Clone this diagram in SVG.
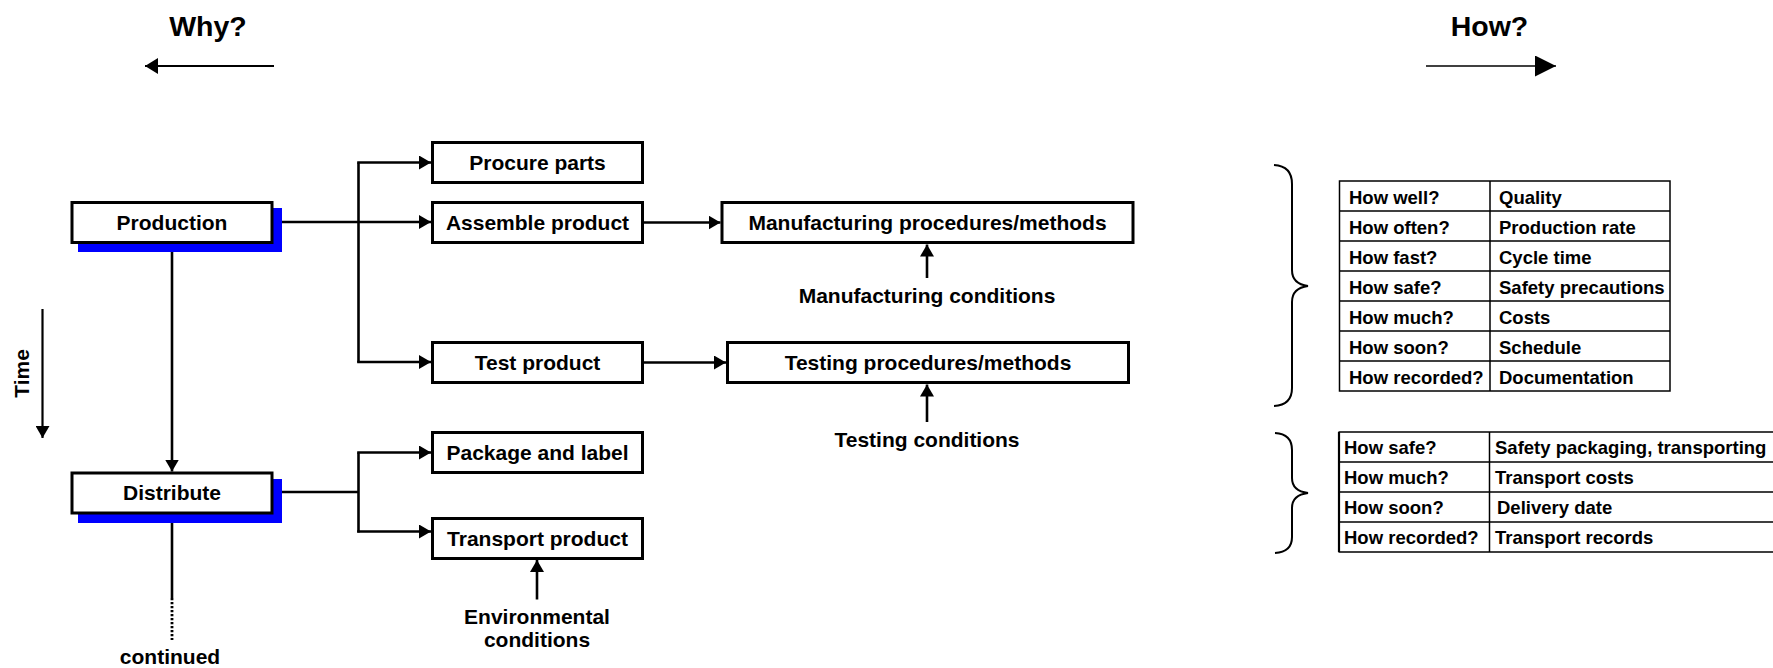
<svg xmlns="http://www.w3.org/2000/svg" width="1773" height="668" viewBox="0 0 1773 668">
<style>
text{font-family:"Liberation Sans",Arial,sans-serif;font-weight:bold;fill:#000}
.t{font-size:21px;text-anchor:middle}
.h{font-size:28.5px;text-anchor:middle}
.c{font-size:18.5px}
.box{fill:#fff;stroke:#000;stroke-width:3}
.sh{fill:#0000ff}
.ln{fill:none;stroke:#000;stroke-width:2.6}
.tb{fill:none;stroke:#000;stroke-width:1.5}
.br{fill:none;stroke:#000;stroke-width:2}
</style>
<defs>
<marker id="ah" viewBox="0 0 12 14" refX="12" refY="7" markerWidth="12" markerHeight="14" markerUnits="userSpaceOnUse" orient="auto"><path d="M0,0 L12,7 L0,14 z" fill="#000"/></marker>
<marker id="ahw" viewBox="0 0 13 16" refX="13" refY="8" markerWidth="13" markerHeight="16" markerUnits="userSpaceOnUse" orient="auto"><path d="M0,0 L13,8 L0,16 z" fill="#000"/></marker>
<marker id="ahh" viewBox="0 0 21 21" refX="21" refY="10.5" markerWidth="21" markerHeight="21" markerUnits="userSpaceOnUse" orient="auto"><path d="M0,0 L21,10.5 L0,21 z" fill="#000"/></marker>
</defs>

<g id="header">
<text class="h" x="208" y="36">Why?</text>
<line x1="274" y1="66" x2="145" y2="66" stroke="#000" stroke-width="2.2" marker-end="url(#ahw)"/>
<text class="h" x="1489.5" y="36">How?</text>
<line x1="1426" y1="66" x2="1556" y2="66" stroke="#000" stroke-width="1.6" marker-end="url(#ahh)"/>
</g>

<g id="time">
<line x1="42.5" y1="309" x2="42.5" y2="438" stroke="#000" stroke-width="2.2" marker-end="url(#ah)"/>
<text class="t" transform="translate(29,373.5) rotate(-90)">Time</text>
</g>

<g id="connectors">
<path class="ln" d="M273,222 H431" marker-end="url(#ah)"/>
<path class="ln" d="M358.5,162.5 V362.5"/>
<path class="ln" d="M357.2,162.5 H431" marker-end="url(#ah)"/>
<path class="ln" d="M357.2,362 H431" marker-end="url(#ah)"/>
<path class="ln" d="M643,222.5 H720.5" marker-end="url(#ah)"/>
<path class="ln" d="M643,362.5 H726" marker-end="url(#ah)"/>
<path class="ln" d="M927,278 V244.5" marker-end="url(#ah)"/>
<path class="ln" d="M927,422 V384.5" marker-end="url(#ah)"/>
<path class="ln" d="M172,244 V471.5" marker-end="url(#ah)"/>
<path class="ln" d="M273,492 H358.5"/>
<path class="ln" d="M358.5,452.5 V532.5"/>
<path class="ln" d="M357.2,452.5 H431" marker-end="url(#ah)"/>
<path class="ln" d="M357.2,531.5 H431" marker-end="url(#ah)"/>
<path class="ln" d="M537,599.5 V560" marker-end="url(#ah)"/>
<path class="ln" d="M172,514 V598"/>
<path d="M172,598 V640" fill="none" stroke="#000" stroke-width="2.8" stroke-dasharray="2.2,1.8"/>
</g>

<g id="production">
<rect class="sh" x="78" y="208" width="204" height="44"/>
<rect class="box" x="72" y="202.5" width="200" height="40"/>
<text class="t" x="172" y="230">Production</text>
</g>
<g id="distribute">
<rect class="sh" x="78" y="479" width="204" height="44"/>
<rect class="box" x="72" y="473" width="200" height="40"/>
<text class="t" x="172" y="500">Distribute</text>
</g>
<g id="procure">
<rect class="box" x="432.5" y="142.5" width="210" height="40"/>
<text class="t" x="537.5" y="170">Procure parts</text>
</g>
<g id="assemble">
<rect class="box" x="432.5" y="202.5" width="210" height="40"/>
<text class="t" x="537.5" y="230">Assemble product</text>
</g>
<g id="test">
<rect class="box" x="432.5" y="342.5" width="210" height="40"/>
<text class="t" x="537.5" y="370">Test product</text>
</g>
<g id="package">
<rect class="box" x="432.5" y="432.5" width="210" height="40"/>
<text class="t" x="537.5" y="460">Package and label</text>
</g>
<g id="transport">
<rect class="box" x="432.5" y="518.5" width="210" height="40"/>
<text class="t" x="537.5" y="546">Transport product</text>
</g>
<g id="manufacturing">
<rect class="box" x="722" y="202.5" width="411" height="40"/>
<text class="t" x="927.5" y="230">Manufacturing procedures/methods</text>
</g>
<g id="testing">
<rect class="box" x="727.5" y="342.5" width="401" height="40"/>
<text class="t" x="928" y="370">Testing procedures/methods</text>
</g>
<g id="labels">
<text class="t" x="927" y="303">Manufacturing conditions</text>
<text class="t" x="927" y="447">Testing conditions</text>
<text class="t" x="537" y="624">Environmental</text>
<text class="t" x="537" y="647">conditions</text>
<text class="t" x="170" y="664">continued</text>
</g>

<g id="table1">
<path class="br" d="M1274,165 Q1292,166 1292,184 L1292,270 Q1292,284 1308,286 Q1292,288 1292,302 L1292,388 Q1292,405 1274,406"/>
<rect class="tb" x="1339.5" y="181" width="330.5" height="210"/>
<path class="tb" d="M1490,181 V391 M1339.5,211 H1670 M1339.5,241 H1670 M1339.5,271 H1670 M1339.5,301 H1670 M1339.5,331 H1670 M1339.5,361 H1670"/>
<g class="c">
<text x="1349" y="203.5">How well?</text><text x="1499" y="203.5">Quality</text>
<text x="1349" y="233.5">How often?</text><text x="1499" y="233.5">Production rate</text>
<text x="1349" y="263.5">How fast?</text><text x="1499" y="263.5">Cycle time</text>
<text x="1349" y="293.5">How safe?</text><text x="1499" y="293.5">Safety precautions</text>
<text x="1349" y="323.5">How much?</text><text x="1499" y="323.5">Costs</text>
<text x="1349" y="353.5">How soon?</text><text x="1499" y="353.5">Schedule</text>
<text x="1349" y="383.5">How recorded?</text><text x="1499" y="383.5">Documentation</text>
</g>
</g>

<g id="table2">
<path class="br" d="M1275,433 Q1292,434 1292,450 L1292,478 Q1292,491 1308,493 Q1292,495 1292,508 L1292,537 Q1292,552 1275,553"/>
<path class="tb" d="M1489.5,432 V552 M1338.5,432 H1773 M1338.5,462 H1773 M1338.5,492 H1773 M1338.5,522 H1773 M1338.5,552 H1773"/>
<path d="M1339,432 V552" stroke="#000" stroke-width="2.2" fill="none"/>
<g class="c">
<text x="1344" y="453.5">How safe?</text><text x="1495" y="453.5">Safety packaging, transporting</text>
<text x="1344" y="483.5">How much?</text><text x="1495" y="483.5">Transport costs</text>
<text x="1344" y="513.5">How soon?</text><text x="1497" y="513.5">Delivery date</text>
<text x="1344" y="543.5">How recorded?</text><text x="1495" y="543.5">Transport records</text>
</g>
</g>
</svg>
